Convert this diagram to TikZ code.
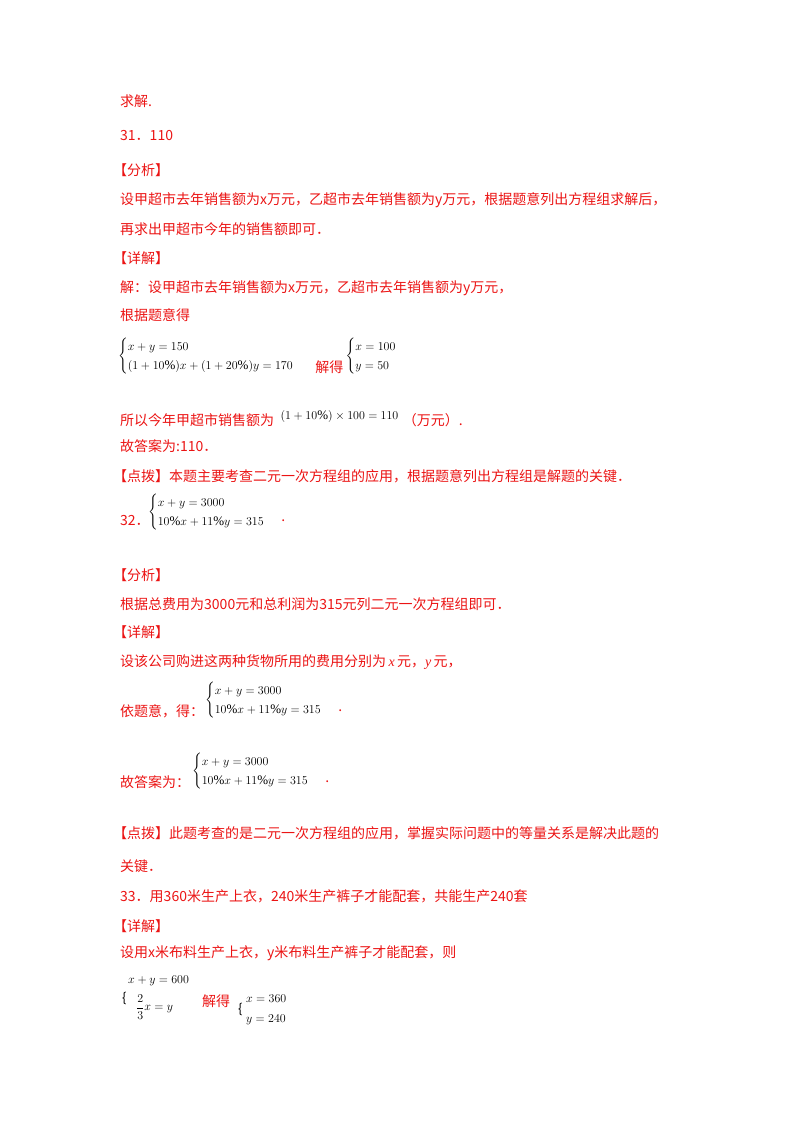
\documentclass[tikz,border=0pt]{standalone}
\usepackage{amsmath}
\usepackage{fontspec}
\setmainfont{Noto Sans CJK SC}
\newfontfamily\tnr{Liberation Serif}
\newcommand{\pc}{\text{\tnr\%}}
\definecolor{rd}{RGB}{235,20,20}
\begin{document}
\begin{tikzpicture}[x=1pt,y=-1pt,
  t/.style={anchor=west,inner sep=0pt,text=rd,font=\fontsize{14}{16}\selectfont},
  m/.style={anchor=west,inner sep=0pt,text=black,font=\fontsize{13}{16}\selectfont}]
\useasboundingbox (0,0) rectangle (800,1132);
\node[t] (l1) at (120,101) {求解.};
\node[t] (l2) at (120,136) {31．110};
\node[t] (l3) at (113,170) {【分析】};
\node[t] (l4) at (120,200) {设甲超市去年销售额为x万元，乙超市去年销售额为y万元，根据题意列出方程组求解后，};
\node[t] (l5) at (120,229) {再求出甲超市今年的销售额即可．};
\node[t] (l6) at (113,258) {【详解】};
\node[t] (l7) at (120,288) {解：设甲超市去年销售额为x万元，乙超市去年销售额为y万元，};
\node[t] (l8) at (120,315) {根据题意得};
\node[m] (s1) at (118,356) {$\begin{cases}x+y=150\\(1+10\pc)x+(1+20\pc)y=170\end{cases}$};
\node[t] (j1) at ([xshift=8pt]s1.east |- 0,367) {解得};
\node[m] (s2) at ([xshift=2pt]j1.east |- 0,356) {$\begin{cases}x=100\\y=50\end{cases}$};
\node[t] (l9) at (120,420) {所以今年甲超市销售额为};
\node[m] (e1) at ([xshift=6pt]l9.east |- 0,416) {$(1+10\pc)\times100=110$};
\node[t] (l9b) at ([xshift=4pt]e1.east |- 0,420) {（万元）.};
\node[t] (l10) at (120,446) {故答案为:110．};
\node[t] (l11) at (113,476) {【点拨】本题主要考查二元一次方程组的应用，根据题意列出方程组是解题的关键．};
\node[t] (l12) at (120,521) {32．};
\node[m] (s3) at (148,512) {$\begin{cases}x+y=3000\\10\pc x+11\pc y=315\end{cases}$};
\node[t] (d1) at ([xshift=3pt]s3.east |- 0,521) {.};
\node[t] (l13) at (113,575) {【分析】};
\node[t] (l14) at (120,604) {根据总费用为3000元和总利润为315元列二元一次方程组即可．};
\node[t] (l15) at (113,632) {【详解】};
\node[t] (l16) at (120,662) {设该公司购进这两种货物所用的费用分别为\,{\tnr\itshape x}\,元，{\tnr\itshape y}\,元，};
\node[t] (l17) at (120,711) {依题意，得：};
\node[m] (s4) at (205,700) {$\begin{cases}x+y=3000\\10\pc x+11\pc y=315\end{cases}$};
\node[t] (d2) at ([xshift=3pt]s4.east |- 0,711) {.};
\node[t] (l18) at (120,782) {故答案为：};
\node[m] (s5) at (192,771) {$\begin{cases}x+y=3000\\10\pc x+11\pc y=315\end{cases}$};
\node[t] (d3) at ([xshift=3pt]s5.east |- 0,782) {.};
\node[t] (l19) at (113,833) {【点拨】此题考查的是二元一次方程组的应用，掌握实际问题中的等量关系是解决此题的};
\node[t] (l20) at (120,866) {关键．};
\node[t] (l21) at (120,896) {33．用360米生产上衣，240米生产裤子才能配套，共能生产240套};
\node[t] (l22) at (113,926) {【详解】};
\node[t] (l23) at (120,953) {设用x米布料生产上衣，y米布料生产裤子才能配套，则};
\node[m] (a1) at (128,981) {$x+y=600$};
\node[m] (a2) at (122,998) {\{};
\node[m] (a3) at (136,1007) {$\dfrac{2}{3}x=y$};
\node[t] (j2) at (202,1001) {解得};
\node[m] (a4) at (238,1009) {\{};
\node[m] (a5) at (246,999) {$x=360$};
\node[m] (a6) at (246,1020) {$y=240$};
\end{tikzpicture}
\end{document}
